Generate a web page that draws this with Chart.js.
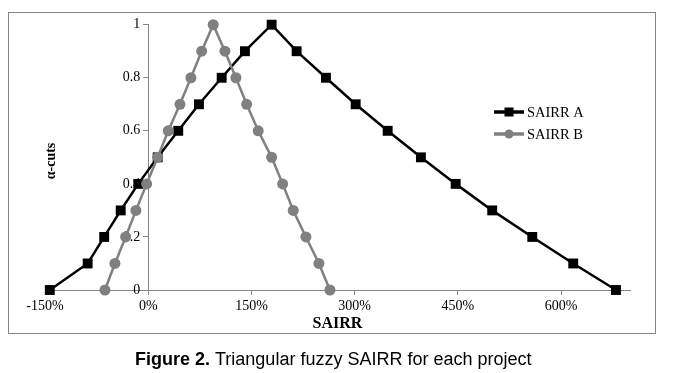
<!DOCTYPE html>
<html><head><meta charset="utf-8">
<script src="https://cdn.jsdelivr.net/npm/chart.js@4"></script>
<style>html,body{margin:0;padding:0;background:#fff;}canvas{display:block}</style>
</head><body>
<canvas id="c" width="683" height="373"></canvas>
<script>
const alphaCuts = [0,0.1,0.2,0.3,0.4,0.5,0.6,0.7,0.8,0.9,1,0.9,0.8,0.7,0.6,0.5,0.4,0.3,0.2,0.1,0];
const sairrA = [-143,-88,-64,-40,-14.5,13.7,43.6,73.7,106.7,140.5,179.3,215.6,258.2,301.4,347.9,396.2,446.7,499.8,558,617.5,679.6];
const sairrB = [-62.9,-48.4,-32.8,-17.9,-2.3,13.7,29.1,46.1,62,77.6,94.4,111.4,127.4,143,159.8,179.3,195.3,210.7,229.1,248,264];
const seriesNames = ['SAIRR A','SAIRR B'];
const xTickValues = [-150,0,150,300,450,600];
const yTickValues = [0,0.2,0.4,0.6,0.8,1];
const yTickLabels = ['0','0.2','0.4','0.6','0.8','1'];
const xTitle = 'SAIRR';
const yTitle = 'α-cuts';
const captionBold = 'Figure 2.';
const captionText = ' Triangular fuzzy SAIRR for each project';

const toXY = xs => xs.map((x,i)=>({x:x, y:alphaCuts[i]}));
const axisGray = '#868686';
const serif = 'Liberation Serif';
const Y_TICK_LEN = 5, Y_TICK_PAD = 3;

const decor = {
  id:'decor',
  beforeDraw(chart){
    const c = chart.ctx;
    c.save(); c.fillStyle='#fff'; c.fillRect(0,0,chart.width,chart.height); c.restore();
    // y axis sits at x = 0: move its labels left of the tick marks
    const ys = chart.scales.y;
    const items = ys.getLabelItems(chart.chartArea);
    if (items && !items._shifted) {
      items.forEach(it => { if (it.options && it.options.translation) it.options.translation[0] -= (Y_TICK_LEN + Y_TICK_PAD); });
      items._shifted = true;
    }
  },
  afterDraw(chart){
    const c = chart.ctx;
    c.save();
    c.strokeStyle = axisGray; c.lineWidth = 1;
    c.strokeRect(8.5,12.5,647,321);
    c.fillStyle='#000';
    c.font = 'bold 14px "'+serif+'"';
    c.textAlign='center'; c.textBaseline='middle';
    c.translate(51,161); c.rotate(-Math.PI/2); c.fillText(yTitle,0,0);
    c.restore();
    c.save();
    chart.data.datasets.forEach((ds,i)=>{
      const y = 112 + i*22;
      c.strokeStyle = ds.borderColor; c.lineWidth = 3.5;
      c.beginPath(); c.moveTo(494,y); c.lineTo(524,y); c.stroke();
      c.fillStyle = ds.backgroundColor;
      if (ds.pointStyle==='rect'){ c.fillRect(509-4.5,y-4.5,9,9); }
      else { c.beginPath(); c.arc(509,y,4.5,0,Math.PI*2); c.fill(); }
      c.fillStyle='#000'; c.font='14.5px "'+serif+'"';
      c.textAlign='left'; c.textBaseline='middle';
      c.fillText(ds.label,527,y+1);
    });
    c.restore();
    c.save();
    c.fillStyle='#000'; c.textBaseline='alphabetic'; c.textAlign='left';
    c.font='bold 18px "Liberation Sans"';
    const w = c.measureText(captionBold).width;
    c.fillText(captionBold,135,365);
    c.font='18px "Liberation Sans"';
    c.fillText(captionText,135+w,365);
    c.restore();
  }
};

new Chart(document.getElementById('c'),{
  type:'scatter',
  data:{datasets:[
    {label:seriesNames[0], data:toXY(sairrA), showLine:true, borderColor:'#000', backgroundColor:'#000',
     borderWidth:2.5, pointStyle:'rect', pointRadius:7, pointHoverRadius:7, pointBorderWidth:0, clip:false, order:1},
    {label:seriesNames[1], data:toXY(sairrB), showLine:true, borderColor:'#808080', backgroundColor:'#808080',
     borderWidth:2.5, pointStyle:'circle', pointRadius:5.5, pointHoverRadius:5.5, pointBorderWidth:0, clip:false, order:0}
  ]},
  options:{
    responsive:false, animation:false, devicePixelRatio:1,
    layout:{padding:{left:45,right:53,top:24.7,bottom:40}},
    plugins:{legend:{display:false}, tooltip:{enabled:false}},
    events:[],
    scales:{
      x:{type:'linear', position:'bottom', min:-150, max:700,
        afterBuildTicks:s=>{s.ticks = xTickValues.map(v=>({value:v}));},
        afterFit:s=>{s.height=43;},
        ticks:{callback:v=>v+'%', font:{family:serif,size:14}, color:'#000', padding:3, maxRotation:0, autoSkip:false},
        grid:{display:true, drawOnChartArea:false, drawTicks:true, tickLength:5, color:axisGray},
        border:{display:true, color:axisGray, width:1},
        title:{display:true, text:xTitle, font:{family:serif,size:16,weight:'bold'}, color:'#000', padding:{top:0,bottom:0}}
      },
      y:{type:'linear', position:{x:0}, min:0, max:1,
        afterBuildTicks:s=>{s.ticks = yTickValues.map(v=>({value:v}));},
        ticks:{callback:(v)=>yTickLabels[yTickValues.indexOf(v)], font:{family:serif,size:14}, color:'#000', padding:Y_TICK_PAD},
        grid:{display:true, drawOnChartArea:false, drawTicks:true, tickLength:Y_TICK_LEN, color:axisGray},
        border:{display:true, color:axisGray, width:1}
      }
    }
  },
  plugins:[decor]
});
</script>
</body></html>
